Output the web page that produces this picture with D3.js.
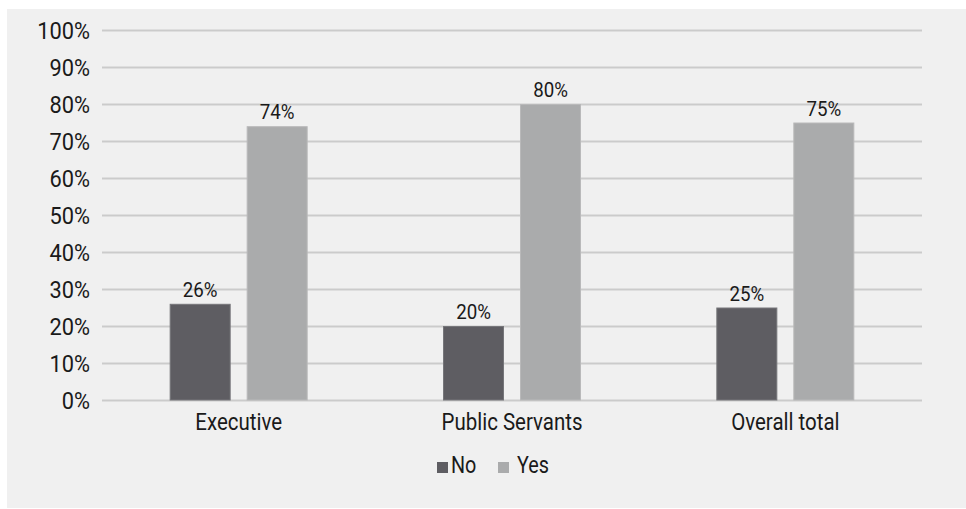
<!DOCTYPE html>
<html>
<head>
<meta charset="utf-8">
<script src="https://cdn.jsdelivr.net/npm/d3@7"></script>
<style>
  html, body { margin: 0; padding: 0; background: #ffffff; }
  svg { display: block; }
  text { font-family: "Roboto", "Liberation Sans", sans-serif; font-weight: 400; fill: #1a1a1a; }
</style>
</head>
<body>
<svg id="chart" width="966" height="509"></svg>
<script>
const categories = ["Executive", "Public Servants", "Overall total"];
const seriesNames = ["No", "Yes"];
const noValues = [26, 20, 25];
const yesValues = [74, 80, 75];
const yTicks = [0, 10, 20, 30, 40, 50, 60, 70, 80, 90, 100];
const colors = { No: "#5e5d62", Yes: "#aaabac" };
const strokes = { No: "#76767a", Yes: "#b9b9ba" };

const svg = d3.select("#chart");
svg.append("rect").attr("x", 7).attr("y", 9).attr("width", 959).attr("height", 499).attr("fill", "#f0f0f0");

const plotLeft = 102, plotRight = 922, plotTop = 30, plotBottom = 400;
const x = d3.scaleBand().domain(categories).range([plotLeft, plotRight]).padding(0);
const y = d3.scaleLinear().domain([0, 100]).range([plotBottom, plotTop]);
const barW = 61, gap = 16;
const sub = d3.scaleOrdinal().domain(seriesNames).range([-(gap / 2 + barW), gap / 2]);

function squeeze(sel, sx, px, py) {
  sel.attr("x", 0).attr("y", 0)
     .attr("transform", (d, i, n) => `translate(${px(d, i, n)},${py(d, i, n)}) scale(${sx},1)`);
}

// gridlines
const yAxis = d3.axisLeft(y).tickValues(yTicks).tickFormat(d => d + "%").tickSize(-(plotRight - plotLeft)).tickPadding(12);
const gAxis = svg.append("g").attr("transform", `translate(${plotLeft},0)`).call(yAxis);
gAxis.select(".domain").remove();
gAxis.selectAll(".tick line").attr("stroke", "#cbcbcb").attr("stroke-width", 2);
const tickText = gAxis.selectAll(".tick text").attr("font-size", 23).attr("fill", "#1a1a1a").attr("dy", "0.36em").attr("font-family", null);
squeeze(tickText, 0.95, () => -12, () => 0);

const data = [];
categories.forEach((c, i) => {
  data.push({ cat: c, s: "No", v: noValues[i] });
  data.push({ cat: c, s: "Yes", v: yesValues[i] });
});

svg.append("g").selectAll("rect").data(data).join("rect")
  .attr("x", d => x(d.cat) + x.bandwidth() / 2 + sub(d.s) + 0.5)
  .attr("y", d => y(d.v) + 0.5)
  .attr("width", barW - 1)
  .attr("height", d => y(0) - y(d.v) - 0.5)
  .attr("fill", d => colors[d.s])
  .attr("stroke", d => strokes[d.s])
  .attr("stroke-width", 1);

const valText = svg.append("g").selectAll("text").data(data).join("text")
  .attr("text-anchor", "middle")
  .attr("font-size", 19.5)
  .text(d => d.v + "%");
squeeze(valText, 0.96, d => x(d.cat) + x.bandwidth() / 2 + sub(d.s) + barW / 2, d => y(d.v) - 7);

// category labels
const catText = svg.append("g").selectAll("text").data(categories).join("text")
  .attr("text-anchor", "middle")
  .attr("font-size", 23)
  .text(d => d);
squeeze(catText, 0.89, d => x(d) + x.bandwidth() / 2, () => 430);

// legend
const legX = { No: 437, Yes: 498 };
const leg = svg.append("g").selectAll("g").data(seriesNames).join("g");
leg.append("rect")
  .attr("x", d => legX[d]).attr("y", 462).attr("width", 11).attr("height", 11)
  .attr("fill", d => colors[d]);
const legText = leg.append("text")
  .attr("font-size", 23)
  .text(d => d);
squeeze(legText, 0.86, d => legX[d] + (d === "No" ? 14 : 19), () => 473);
</script>
</body>
</html>
